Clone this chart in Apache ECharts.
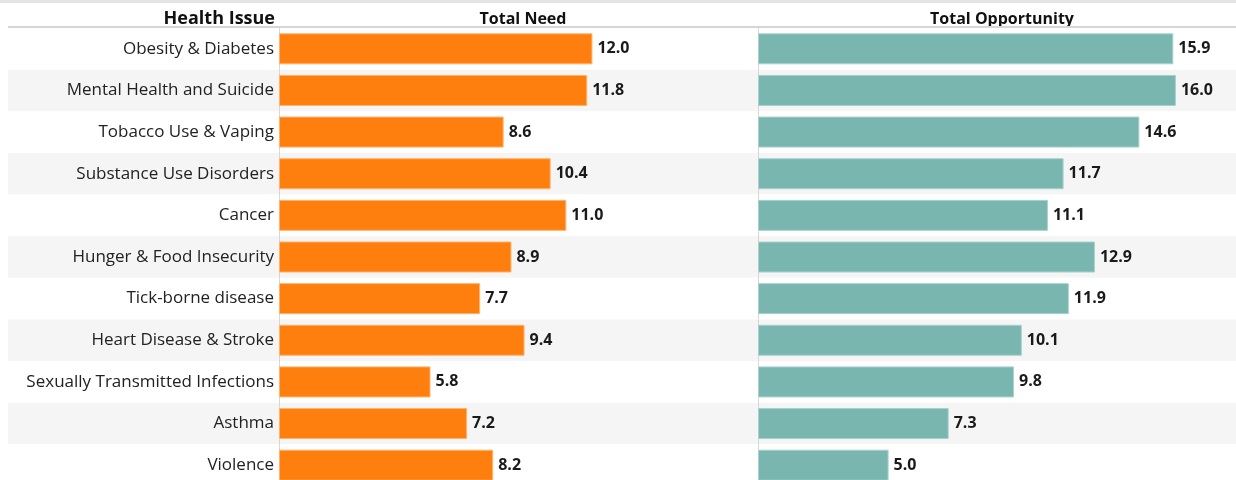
<!DOCTYPE html>
<html>
<head>
<meta charset="utf-8">
<script src="https://cdn.jsdelivr.net/npm/echarts@6/dist/echarts.min.js"></script>
<style>
  html, body { margin: 0; padding: 0; background: #fff; }
  #main { width: 1236px; height: 480px; }
</style>
</head>
<body>
<div id="main"></div>
<script>
// data
var issues = ['Obesity & Diabetes', 'Mental Health and Suicide', 'Tobacco Use & Vaping',
    'Substance Use Disorders', 'Cancer', 'Hunger & Food Insecurity', 'Tick-borne disease',
    'Heart Disease & Stroke', 'Sexually Transmitted Infections', 'Asthma', 'Violence'];
var totalNeed = [12.0, 11.8, 8.6, 10.4, 11.0, 8.9, 7.7, 9.4, 5.8, 7.2, 8.2];
var totalOpportunity = [15.9, 16.0, 14.6, 11.7, 11.1, 12.9, 11.9, 10.1, 9.8, 7.3, 5.0];
var headers = ['Health Issue', 'Total Need', 'Total Opportunity'];

var FONT = '"Open Sans", "Noto Sans", sans-serif';
var rowTop = 28, rowsH = 458;   // last row runs off the bottom edge
var xMax = 18.3;

var myChart = echarts.init(document.getElementById('main'));

var valueLabel = {
    show: true,
    position: 'right',
    distance: 5,
    color: '#1a1a1a',
    fontFamily: FONT,
    fontWeight: 'bold',
    fontSize: 16,
    formatter: function (p) { return p.value.toFixed(1); }
};

var option = {
    animation: false,
    textStyle: { fontFamily: FONT },
    title: [
        { text: headers[0], right: 1236 - 280, top: 5,
          textStyle: { fontSize: 18, fontWeight: 'bold', color: '#111', fontFamily: FONT } },
        { text: headers[1], left: 518, top: 6, textAlign: 'center',
          textStyle: { fontSize: 16, fontWeight: 'bold', color: '#111', fontFamily: FONT } },
        { text: headers[2], left: 997, top: 6, textAlign: 'center',
          textStyle: { fontSize: 16, fontWeight: 'bold', color: '#111', fontFamily: FONT } }
    ],
    graphic: [
        { type: 'rect', shape: { x: 0, y: 0, width: 1236, height: 3 }, style: { fill: '#e4e4e4' }, z: 10 },
        { type: 'rect', shape: { x: 8, y: 26, width: 1228, height: 2 }, style: { fill: '#d6d6d6' }, z: 10 }
    ],
    grid: [
        // background banding across the whole row
        { left: 8, width: 1228, top: rowTop, height: rowsH, outerBoundsMode: 'none' },
        { left: 279, width: 478, top: rowTop, height: rowsH, outerBoundsMode: 'none' },
        { left: 758, width: 478, top: rowTop, height: rowsH, outerBoundsMode: 'none' }
    ],
    xAxis: [
        { gridIndex: 0, type: 'value', show: false, min: 0, max: 1 },
        { gridIndex: 1, type: 'value', show: false, min: 0, max: xMax },
        { gridIndex: 2, type: 'value', show: false, min: 0, max: xMax }
    ],
    yAxis: [
        {
            gridIndex: 0, type: 'category', inverse: true, data: issues,
            axisLine: { show: false }, axisTick: { show: false }, axisLabel: { show: false },
            splitArea: { show: true, areaStyle: { color: ['#ffffff', '#f5f5f5'] } }
        },
        {
            gridIndex: 1, type: 'category', inverse: true, data: issues,
            axisLine: { show: true, lineStyle: { color: '#cfcfcf', type: 'dotted', width: 1 } },
            axisTick: { show: false },
            axisLabel: { margin: 5, fontSize: 17, color: '#222', fontFamily: FONT }
        },
        {
            gridIndex: 2, type: 'category', inverse: true, data: issues,
            axisLine: { show: true, lineStyle: { color: '#cfcfcf', type: 'dotted', width: 1 } },
            axisTick: { show: false },
            axisLabel: { show: false }
        }
    ],
    series: [
        {
            name: 'Total Need', type: 'bar', xAxisIndex: 1, yAxisIndex: 1,
            data: totalNeed, barWidth: 31,
            itemStyle: { color: '#ff7f0e', borderColor: '#ffb26b', borderWidth: 1 },
            label: valueLabel
        },
        {
            name: 'Total Opportunity', type: 'bar', xAxisIndex: 2, yAxisIndex: 2,
            data: totalOpportunity, barWidth: 31,
            itemStyle: { color: '#79b6b0', borderColor: '#a8d2cd', borderWidth: 1 },
            label: valueLabel
        }
    ]
};

myChart.setOption(option);
</script>
</body>
</html>
